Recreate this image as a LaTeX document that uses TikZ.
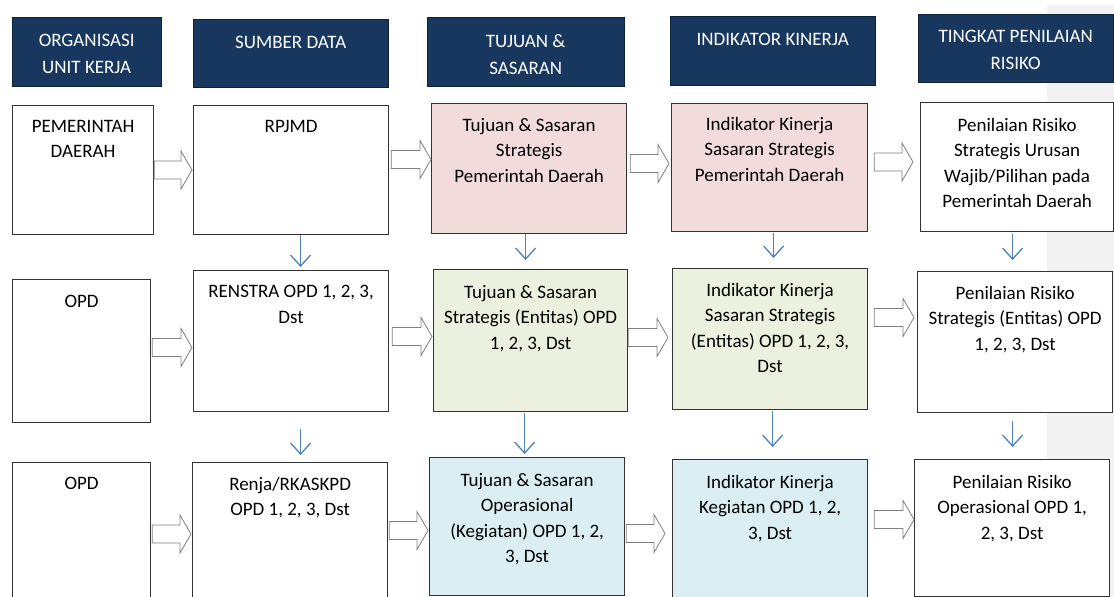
\documentclass[tikz,border=0pt]{standalone}
\usepackage{fontspec}
\setmainfont{Carlito}
\usepackage{tikz}
\usepackage{xcolor}
\usetikzlibrary{calc,positioning,arrows.meta}
\definecolor{headcolor}{HTML}{17375E}
\definecolor{pinkcolor}{HTML}{F2DCDB}
\definecolor{greencolor}{HTML}{EBF1DE}
\definecolor{bluecolor}{HTML}{DAEEF3}
\definecolor{arrowcolor}{HTML}{4F81BD}
\definecolor{shadecolor}{HTML}{F2F2F2}
\colorlet{linecolor}{black!80}
\tikzstyle{headbox} = [
    fill=headcolor,
    draw=headcolor!60!black,
    rectangle,
    anchor=north west,
    inner sep=0pt
    ]
\tikzstyle{cellbox} = [
    draw=linecolor,
    fill=white,
    line width=1.2pt,
    rectangle,
    anchor=north west,
    inner sep=0pt
    ]
\tikzstyle{headtext} = [text=white, inner sep=0pt, align=center, font=\fontsize{19}{27}\selectfont]
\tikzstyle{celltext} = [inner sep=0pt, align=center, font=\fontsize{19}{25.5}\selectfont]
\tikzstyle{blockarrow} = [draw=gray, fill=white, line width=0.8pt]
\tikzstyle{downarrow} = [draw=arrowcolor, line width=1.3pt, -{Straight Barb[length=11pt,width=20pt]}]
\newcommand{\flowarrow}[5]{% from, to, y, start gap, end gap
\draw[blockarrow] let \p1=(#1.east), \p2=(#2.west) in
    (\x1+#4pt,-#3pt-9pt) -- (\x2-#5pt-11pt,-#3pt-9pt) -- (\x2-#5pt-11pt,-#3pt-19pt)
    -- (\x2-#5pt,-#3pt) -- (\x2-#5pt-11pt,-#3pt+19pt) -- (\x2-#5pt-11pt,-#3pt+9pt)
    -- (\x1+#4pt,-#3pt+9pt) -- cycle;}
\newcommand{\downlink}[5]{% from, to, x shift, start gap, end gap
\draw[downarrow] let \p1=(#1.south), \p2=(#2.north) in
    (\x1+#3pt,\y1-#4pt) -- (\x1+#3pt,\y2+#5pt);}

\begin{document}
\begin{tikzpicture}[x=1pt, y=-1pt]
\useasboundingbox (0,0) rectangle (1114,597);
\fill[white] (0,0) rectangle (1114,597);
\fill[shadecolor] (1047,5) rectangle (1114,597);

% header row
\node[headbox, minimum width=149pt, minimum height=69pt] (h1) at (12,17) {};
\node[headbox, minimum width=195pt, minimum height=68pt] (h2) at (193,19) {};
\node[headbox, minimum width=197pt, minimum height=69pt] (h3) at (427,17) {};
\node[headbox, minimum width=205pt, minimum height=69pt] (h4) at (670,16) {};
\node[headbox, minimum width=195pt, minimum height=68pt] (h5) at (918,14) {};
\node[headtext, below=17pt of h1.north] {ORGANISASI\\UNIT KERJA};
\node[headtext, below=17pt of h2.north] {SUMBER DATA};
\node[headtext, below=17pt of h3.north] {TUJUAN \&\\SASARAN};
\node[headtext, below=17pt of h4.north] {INDIKATOR KINERJA};
\node[headtext, below=16pt of h5.north] {TINGKAT PENILAIAN\\RISIKO};

% row 1
\node[cellbox, minimum width=141pt, minimum height=129pt] (a1) at (12,105) {};
\node[cellbox, minimum width=195pt, minimum height=129pt] (b1) at (193,105) {};
\node[cellbox, fill=pinkcolor, minimum width=195pt, minimum height=130pt] (c1) at (431,103) {};
\node[cellbox, fill=pinkcolor, minimum width=196pt, minimum height=128pt] (d1) at (671,103) {};
\node[cellbox, minimum width=193pt, minimum height=129pt] (e1) at (920,102) {};
\node[celltext, below=15pt of a1.north] {PEMERINTAH\\DAERAH};
\node[celltext, below=15pt of b1.north] {RPJMD};
\node[celltext, below=15pt of c1.north] {Tujuan \& Sasaran\\Strategis\\Pemerintah Daerah};
\node[celltext, below=14pt of d1.north] {Indikator Kinerja\\Sasaran Strategis\\Pemerintah Daerah};
\node[celltext, below=16pt of e1.north] {Penilaian Risiko\\Strategis Urusan\\Wajib/Pilihan pada\\Pemerintah Daerah};

% row 2
\node[cellbox, minimum width=138pt, minimum height=143pt] (a2) at (12,279) {};
\node[cellbox, minimum width=195pt, minimum height=141pt] (b2) at (193,270) {};
\node[cellbox, fill=greencolor, minimum width=194pt, minimum height=142pt] (c2) at (433,269) {};
\node[cellbox, fill=greencolor, minimum width=195pt, minimum height=141pt] (d2) at (672,268) {};
\node[cellbox, minimum width=195pt, minimum height=141pt] (e2) at (917,271) {};
\node[celltext, below=16pt of a2.north] {OPD};
\node[celltext, below=15pt of b2.north] {RENSTRA OPD 1, 2, 3,\\Dst};
\node[celltext, below=16pt of c2.north] {Tujuan \& Sasaran\\Strategis (Entitas) OPD\\1, 2, 3, Dst};
\node[celltext, below=15pt of d2.north] {Indikator Kinerja\\Sasaran Strategis\\(Entitas) OPD 1, 2, 3,\\Dst};
\node[celltext, below=15pt of e2.north] {Penilaian Risiko\\Strategis (Entitas) OPD\\1, 2, 3, Dst};

% row 3
\node[cellbox, minimum width=138pt, minimum height=140pt] (a3) at (12,462) {};
\node[cellbox, minimum width=195pt, minimum height=140pt] (b3) at (192,462) {};
\node[cellbox, fill=bluecolor, minimum width=195pt, minimum height=138pt] (c3) at (429,457) {};
\node[cellbox, fill=bluecolor, minimum width=195pt, minimum height=140pt] (d3) at (672,459) {};
\node[cellbox, minimum width=195pt, minimum height=137pt] (e3) at (914,459) {};
\node[celltext, below=15pt of a3.north] {OPD};
\node[celltext, below=15pt of b3.north] {Renja/RKASKPD\\OPD 1, 2, 3, Dst};
\node[celltext, below=16pt of c3.north] {Tujuan \& Sasaran\\Operasional\\(Kegiatan) OPD 1, 2,\\3, Dst};
\node[celltext, below=16pt of d3.north] {Indikator Kinerja\\Kegiatan OPD 1, 2,\\3, Dst};
\node[celltext, below=16pt of e3.north] {Penilaian Risiko\\Operasional OPD 1,\\2, 3, Dst};

% block arrows between columns
\flowarrow{a1}{b1}{170}{0}{1}
\flowarrow{b1}{c1}{159.5}{2}{0}
\flowarrow{c1}{d1}{163.5}{3}{2}
\flowarrow{d1}{e1}{162}{6}{7}
\flowarrow{a2}{b2}{347.5}{1}{1}
\flowarrow{b2}{c2}{336.5}{3}{1}
\flowarrow{c2}{d2}{337.5}{0}{4}
\flowarrow{d2}{e2}{317.5}{6}{3}
\flowarrow{a3}{b3}{534}{1}{1}
\flowarrow{b3}{c3}{530.5}{1}{1}
\flowarrow{c3}{d3}{533.5}{1}{7}
\flowarrow{d3}{e3}{519.5}{6}{0}

% arrows down the rows
\downlink{b1}{b2}{9.5}{0}{3}
\downlink{c1}{c2}{-3.5}{0}{9}
\downlink{d1}{d2}{4}{1}{10}
\downlink{e1}{e2}{-4.5}{2}{11}
\downlink{b2}{b3}{9.5}{17}{7}
\downlink{c2}{c3}{-6}{1}{3}
\downlink{d2}{d3}{2.5}{1}{12}
\downlink{e2}{e3}{-2.5}{8}{12}
\end{tikzpicture}
\end{document}
